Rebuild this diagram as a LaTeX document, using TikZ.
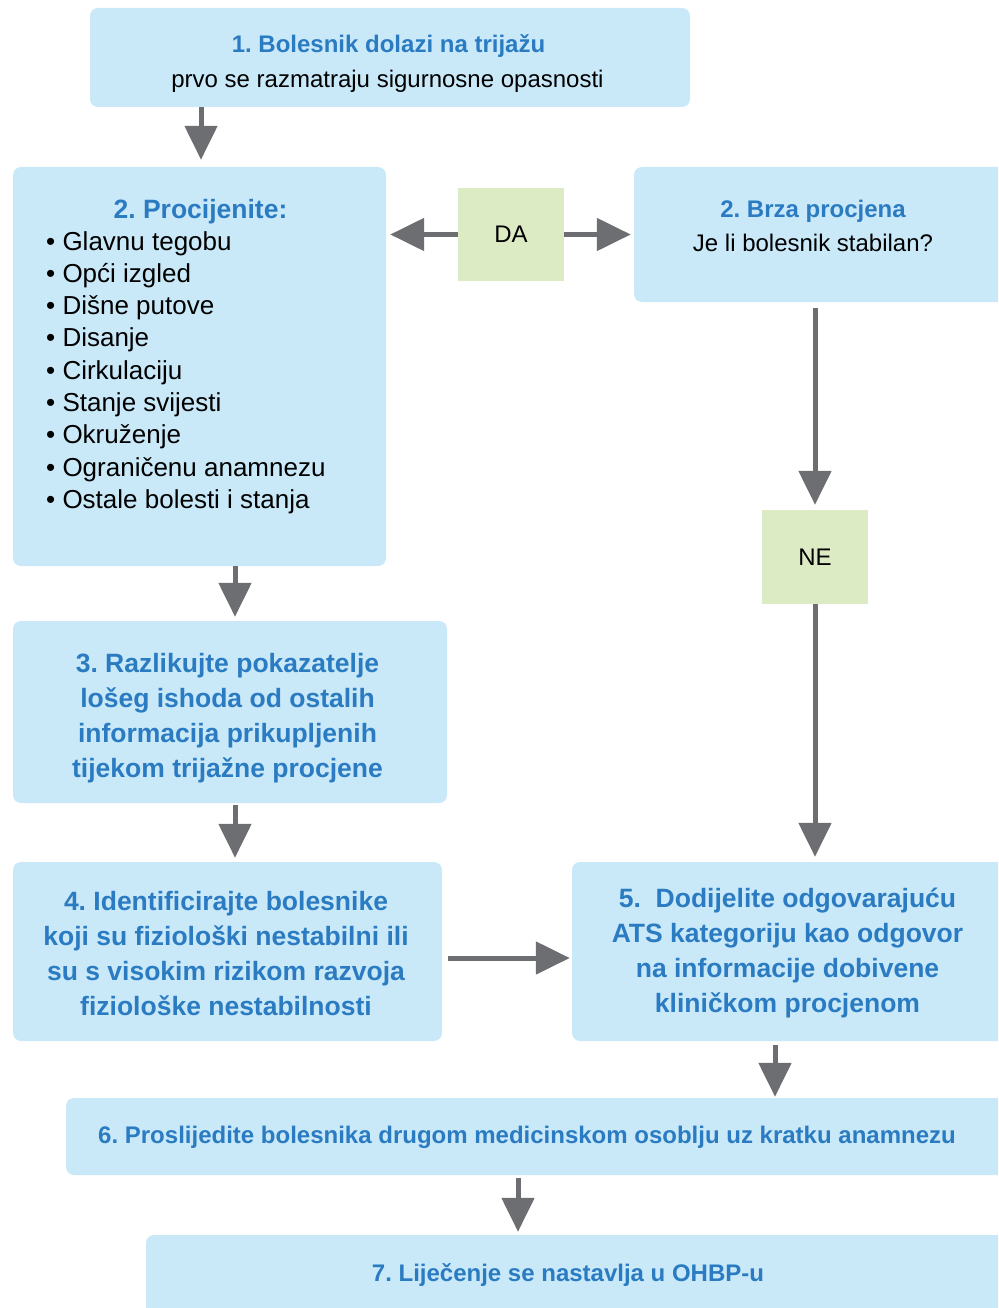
\documentclass[tikz,border=0pt]{standalone}
\usepackage{fontspec}
\setmainfont{Liberation Sans}
\usetikzlibrary{arrows.meta}
\definecolor{boxblue}{RGB}{201,233,249}
\definecolor{answergreen}{RGB}{221,235,197}
\definecolor{arrowgray}{RGB}{109,110,113}
\definecolor{titleblue}{RGB}{42,123,193}
\frenchspacing
\begin{document}
\begin{tikzpicture}[x=1pt,y=-1pt]
  \tikzstyle{every node}=[inner sep=0pt];
  \tikzstyle{box}=[fill=boxblue,rounded corners=8pt];
  \tikzstyle{answer}=[fill=answergreen,font=\fontsize{24}{28}\selectfont];
  \tikzstyle{title}=[anchor=base,font=\fontsize{24}{28}\selectfont\bfseries,text=titleblue];
  \tikzstyle{plain}=[anchor=base,font=\fontsize{24}{28}\selectfont];
  \tikzstyle{item}=[anchor=base west,font=\fontsize{26}{32}\selectfont];
  \tikzstyle{big}=[align=center,font=\fontsize{26.5}{35}\selectfont\bfseries,text=titleblue];
  \tikzstyle{arrow}=[draw=arrowgray,line width=5pt,-{Triangle[width=32pt,length=34pt]}];
  \useasboundingbox (0,0) rectangle (998,1308);
  \clip (0,0) rectangle (998,1308);
  %boxes (the right ones run off the page)
  \node[box,minimum width=600pt,minimum height=99pt] (b1) at (390,57.5) {};
  \node[box,minimum width=373pt,minimum height=399pt] (b2) at (199.5,366.5) {};
  \node[box,minimum width=380pt,minimum height=135pt] (b2r) at (824,234.5) {};
  \node[answer,minimum width=106pt,minimum height=93pt] (da) at (511,234.5) {DA};
  \node[answer,minimum width=106pt,minimum height=94pt] (ne) at (815,557) {NE};
  \node[box,minimum width=434pt,minimum height=182pt] (b3) at (230,712) {};
  \node[box,minimum width=429pt,minimum height=179pt] (b4) at (227.5,951.5) {};
  \node[box,minimum width=440pt,minimum height=179pt] (b5) at (792,951.5) {};
  \node[box,minimum width=946pt,minimum height=77pt] (b6) at (539,1136.5) {};
  \node[box,minimum width=866pt,minimum height=90pt] (b7) at (579,1280) {};
  %texts
  \node[title] (t1) at (388.5,53) {1. Bolesnik dolazi na trijažu};
  \node[plain] (s1) at (387.5,88) {prvo se razmatraju sigurnosne opasnosti};
  \node[title,font=\fontsize{26.5}{30}\selectfont\bfseries] (t2) at (200.5,218) {2. Procijenite:};
  \node[item] (i1) at (46,250) {• Glavnu tegobu};
  \node[item] (i2) at (46,282.3) {• Opći izgled};
  \node[item] (i3) at (46,314.6) {• Dišne putove};
  \node[item] (i4) at (46,346.9) {• Disanje};
  \node[item] (i5) at (46,379.2) {• Cirkulaciju};
  \node[item] (i6) at (46,411.5) {• Stanje svijesti};
  \node[item] (i7) at (46,443.8) {• Okruženje};
  \node[item] (i8) at (46,476.1) {• Ograničenu anamnezu};
  \node[item] (i9) at (46,508.4) {• Ostale bolesti i stanja};
  \node[title] (t2r) at (813,217) {2. Brza procjena};
  \node[plain] (s2r) at (813,251) {Je li bolesnik stabilan?};
  \node[big] (t3) at (227.5,718) {3. Razlikujte pokazatelje\\lošeg ishoda od ostalih\\informacija prikupljenih\\tijekom trijažne procjene};
  \node[big] (t4) at (226,953.5) {4. Identificirajte bolesnike\\koji su fiziološki nestabilni ili\\su s visokim rizikom razvoja\\fiziološke nestabilnosti};
  \node[big] (t5) at (787.5,953.5) {5.\ \ Dodijelite odgovarajuću\\ATS kategoriju kao odgovor\\na informacije dobivene\\kliničkom procjenom};
  \node[title] (t6) at (527,1143) {6. Proslijedite bolesnika drugom medicinskom osoblju uz kratku anamnezu};
  \node[title] (t7) at (568,1281) {7. Liječenje se nastavlja u OHBP-u};
  %arrows
  \draw[arrow,shorten >=7pt] (b1.south -| 201,0) -- (b2.north -| 201,0);
  \draw[arrow,shorten >=4pt] (da.west) -- (da.west -| b2.east);
  \draw[arrow,shorten >=3pt] (da.east) -- (b2r.west);
  \draw[arrow,shorten <=6pt,shorten >=5pt] (b2r.south -| ne.north) -- (ne.north);
  \draw[arrow,shorten >=5pt] (ne.south) -- (ne.south |- b5.north);
  \draw[arrow,shorten >=4pt] (b2.south -| 235,0) -- (b3.north -| 235,0);
  \draw[arrow,shorten <=2pt,shorten >=4pt] (b3.south -| 235,0) -- (b4.north -| 235,0);
  \draw[arrow,shorten <=6pt,shorten >=2pt] (b4.east |- 0,958) -- (b5.west |- 0,958);
  \draw[arrow,shorten <=4pt,shorten >=1pt] (b5.south -| 775,0) -- (b6.north -| 775,0);
  \draw[arrow,shorten <=3pt,shorten >=3pt] (b6.south -| 518,0) -- (b7.north -| 518,0);
\end{tikzpicture}
\end{document}
